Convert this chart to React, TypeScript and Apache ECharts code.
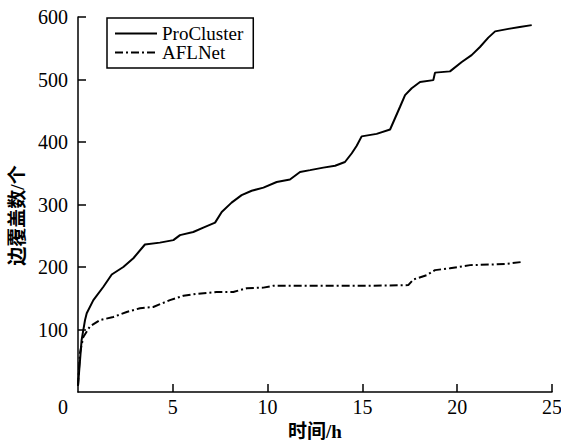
import React, { useEffect, useRef } from "react";
import * as echarts from "echarts";

const seriesNames = ["ProCluster", "AFLNet"];

const proTime = [0, 0.19, 0.37, 0.46, 0.81, 1.33, 1.78, 2.39, 2.92, 3.53, 4.32, 5.03, 5.38, 6.08, 6.61, 7.23, 7.58, 8.1, 8.63, 9.16, 9.78, 10.48, 11.18, 11.71, 12.24, 12.94, 13.56, 14.08, 14.44, 14.7, 14.96, 15.75, 16.46, 16.72, 16.98, 17.25, 17.6, 18.04, 18.74, 18.83, 19.62, 20.24, 20.76, 21.2, 21.64, 22.0, 22.7, 23.3, 23.93];
const proValue = [10, 83, 115, 126, 147, 168, 188, 200, 214, 236, 239, 243, 251, 256, 263, 271, 288, 303, 315, 322, 327, 336, 340, 352, 355, 359, 362, 368, 382, 394, 409, 413, 420, 438, 456, 475, 486, 496, 499, 511, 513, 528, 539, 552, 567, 577, 581, 584, 587];

const aflTime = [0, 0.1, 0.28, 0.63, 1.16, 1.86, 2.57, 3.27, 3.97, 4.85, 5.56, 6.26, 7.31, 8.19, 8.9, 9.78, 10.3, 12.4, 15.2, 17.42, 17.69, 18.39, 18.83, 19.62, 20.68, 21.9, 22.6, 23.4];
const aflValue = [10, 62, 88, 105, 115, 120, 128, 134, 136, 147, 154, 157, 160, 160, 166, 167, 170, 170, 170, 171, 180, 187, 195, 198, 203, 204, 205, 208];

const xTicks = { min: 0, max: 25, interval: 5 };
const yTicks = { min: 0, max: 600, interval: 100 };

const zip = (a: number[], b: number[]) => a.map((t, i) => [t, b[i]]);

const serif = "'Liberation Serif', 'Noto Sans CJK SC', serif";

export default function App() {
  const ref = useRef<HTMLDivElement>(null);
  useEffect(() => {
    document.body.style.margin = "0";
    const chart = echarts.init(ref.current!, null, { renderer: "svg" });
    chart.setOption({
      animation: false,
      backgroundColor: "#fff",
      grid: { left: 78, right: 9, top: 17, bottom: 49, containLabel: false, outerBoundsMode: "none" },
      legend: {
        orient: "vertical",
        left: 107,
        top: 18,
        padding: [6, 10, 6, 7],
        itemGap: 0,
        itemWidth: 42,
        itemHeight: 19,
        borderColor: "#000",
        borderWidth: 1.5,
        backgroundColor: "#fff",
        itemStyle: { opacity: 0 },
        textStyle: { fontFamily: serif, fontSize: 19, color: "#000", lineHeight: 19 },
        data: seriesNames,
      },
      xAxis: {
        type: "value",
        min: xTicks.min,
        max: xTicks.max,
        interval: xTicks.interval,
        name: "时间/h",
        nameLocation: "middle",
        nameGap: 30,
        nameTextStyle: { fontFamily: serif, fontSize: 19, color: "#000", fontWeight: "bold" },
        axisLine: { lineStyle: { color: "#000", width: 1.5 } },
        axisTick: { inside: true, length: 8, lineStyle: { color: "#000", width: 1.5 } },
        axisLabel: { showMinLabel: false, fontFamily: serif, fontSize: 20, color: "#000", margin: 5 },
        splitLine: { show: false },
      },
      yAxis: {
        type: "value",
        min: yTicks.min,
        max: yTicks.max,
        interval: yTicks.interval,
        name: "边覆盖数/个",
        nameLocation: "middle",
        nameGap: 42,
        nameRotate: 90,
        nameTextStyle: { fontFamily: serif, fontSize: 19, color: "#000", fontWeight: "bold", padding: [0, 22, 0, 0] },
        axisLine: { show: true, lineStyle: { color: "#000", width: 1.5 } },
        axisTick: { show: true, inside: true, length: 8, lineStyle: { color: "#000", width: 1.5 } },
        axisLabel: { showMinLabel: false, fontFamily: serif, fontSize: 20, color: "#000", margin: 10 },
        splitLine: { show: false },
      },
      graphic: [
        {
          type: "text",
          left: 58,
          top: 397,
          style: { text: "0", font: `20px ${serif}`, fill: "#000" },
        },
      ],
      series: [
        {
          name: seriesNames[0],
          type: "line",
          symbol: "none",
          data: zip(proTime, proValue),
          lineStyle: { color: "#000", width: 2 },
          itemStyle: { color: "#000" },
        },
        {
          name: seriesNames[1],
          type: "line",
          symbol: "none",
          data: zip(aflTime, aflValue),
          lineStyle: { color: "#000", width: 2, type: [8, 3, 2, 3] },
          itemStyle: { color: "#000" },
        },
      ],
    });
    return () => chart.dispose();
  }, []);
  return <div ref={ref} style={{ width: 561, height: 441 }} />;
}
